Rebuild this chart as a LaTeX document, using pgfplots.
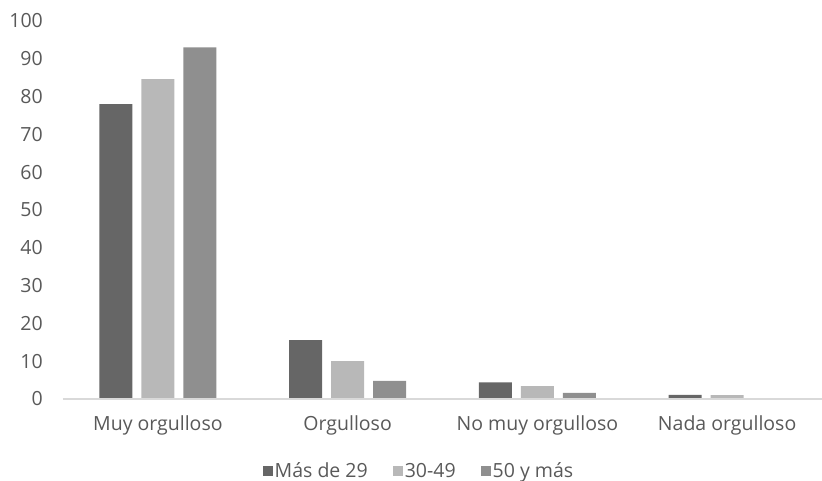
\documentclass[border=0pt]{standalone}
\usepackage{fontspec}
\setmainfont{Open Sans}
\usepackage{pgfplots}
\pgfplotsset{compat=1.18}
\definecolor{cA}{HTML}{666666}
\definecolor{cB}{HTML}{B8B8B8}
\definecolor{cC}{HTML}{8F8F8F}
\definecolor{txt}{HTML}{595959}
\definecolor{axl}{HTML}{D9D9D9}
\begin{document}
\begin{tikzpicture}
\useasboundingbox (-63pt,-82pt) rectangle (759pt,399pt);
\begin{axis}[
  at={(0pt,0pt)}, anchor=south west,
  scale only axis, width=759pt, height=378pt,
  ybar=9pt, bar width=33pt,
  xmin=-0.5, xmax=3.5, ymin=0, ymax=100,
  xtick={0,1,2,3},
  xticklabels={Muy orgulloso, Orgulloso, No muy orgulloso, Nada orgulloso},
  ytick={0,10,...,100},
  axis line style={draw=none},
  axis x line*=bottom, axis y line*=left,
  major tick length=0pt,
  tick label style={font=\fontsize{19.5}{22}\selectfont, text=txt, inner sep=0pt},
  /pgf/number format/assume math mode=true,
  yticklabel style={anchor=east, xshift=-20pt},
  xticklabel style={anchor=base, yshift=-32pt},
  legend style={at={(0.469,-0.19)}, anchor=center, draw=none, fill=none,
    legend columns=3, font=\fontsize{19.5}{22}\selectfont, text=txt,
    /tikz/every even column/.append style={column sep=23pt},
    /tikz/every odd column/.append style={column sep=0pt}},
  legend image code/.code={\fill[#1] (0pt,-5pt) rectangle (10pt,5pt);},
  clip=false,
]
\addplot[fill=cA, draw=none] coordinates {(0,78.0) (1,15.6) (2,4.4) (3,1.1)};
\addplot[fill=cB, draw=none] coordinates {(0,84.6) (1,10.0) (2,3.4) (3,1.0)};
\addplot[fill=cC, draw=none] coordinates {(0,93.0) (1,4.8) (2,1.6) (3,0)};
\legend{Más de 29, 30-49, 50 y más}
\draw[axl, line width=1.2pt] (rel axis cs:0,0) -- (rel axis cs:1,0);
\end{axis}
\end{tikzpicture}
\end{document}
